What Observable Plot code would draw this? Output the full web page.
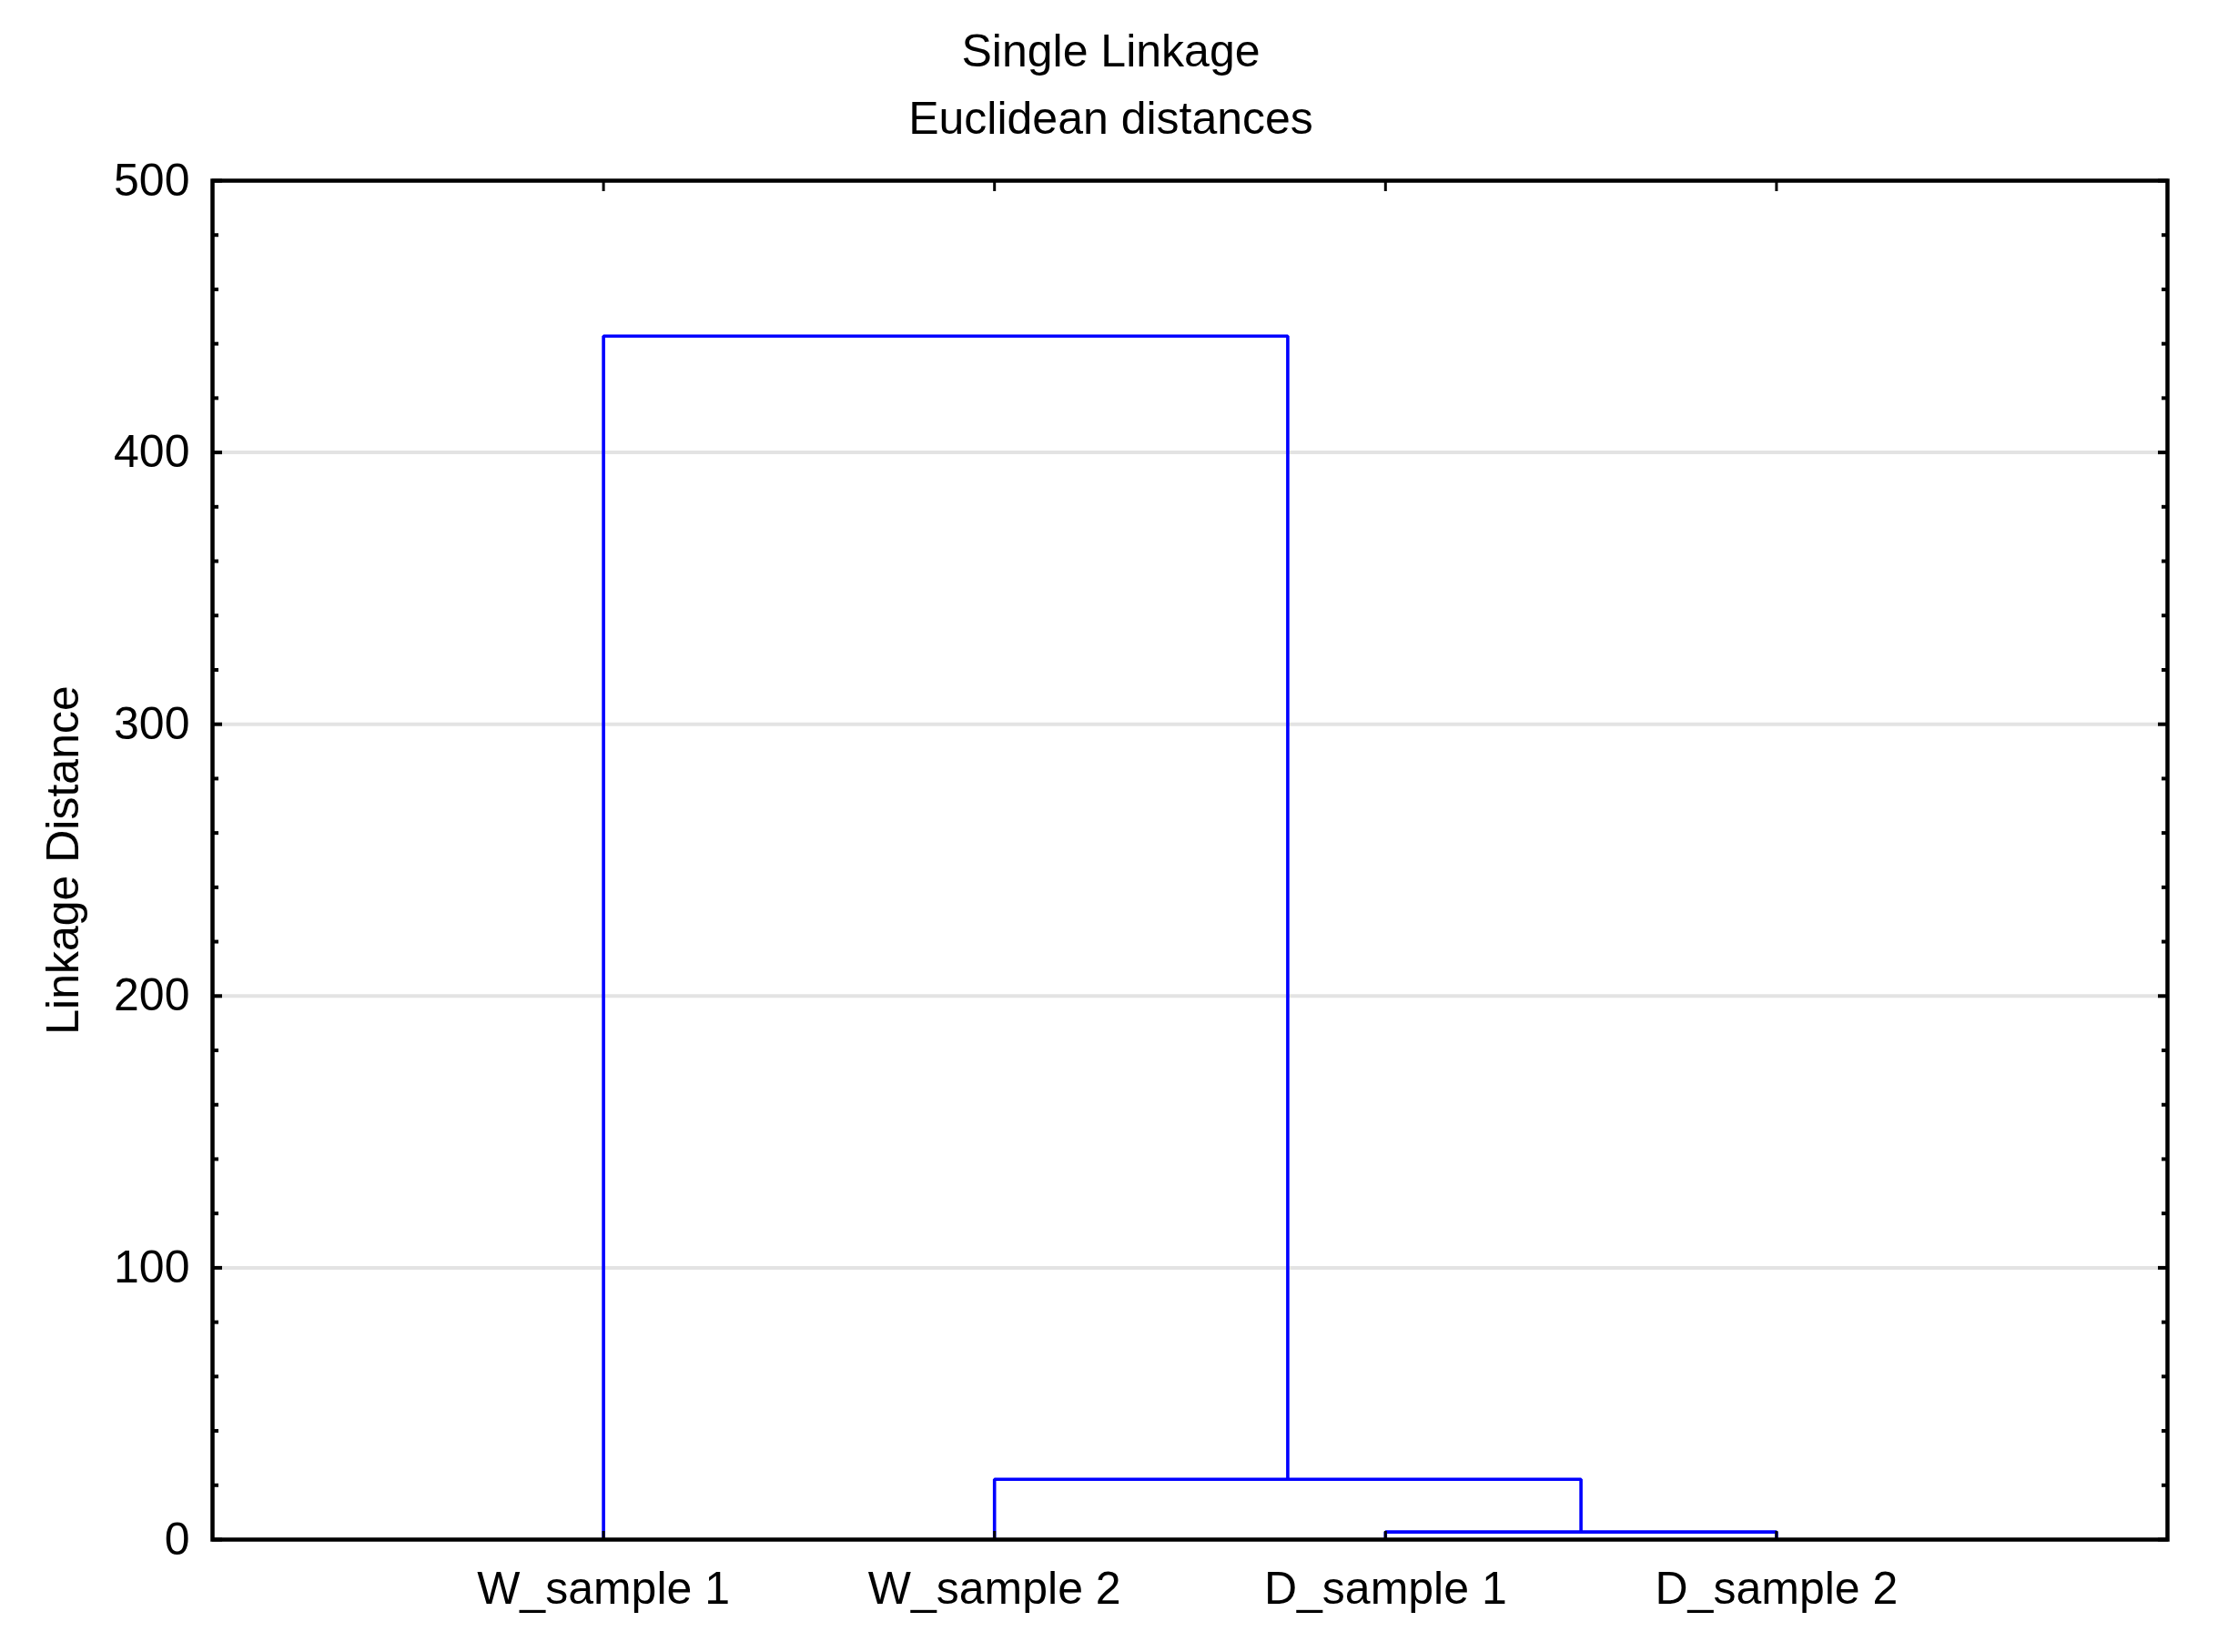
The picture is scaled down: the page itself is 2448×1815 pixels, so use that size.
<!DOCTYPE html>
<html><head><meta charset="utf-8">
<script src="https://cdn.jsdelivr.net/npm/d3@7"></script>
<script src="https://cdn.jsdelivr.net/npm/@observablehq/plot@0.6"></script>
<style>body{margin:0;background:#fff}</style>
</head><body><div id="chart"></div>
<script>
// Leaves in dendrogram order
const leaves = ["W_sample 1", "W_sample 2", "D_sample 1", "D_sample 2"];
// Merge steps: left member, right member, linkage distance (C1, C2 = clusters formed by earlier steps)
const mergeLeft = ["D_sample 1", "W_sample 2", "W_sample 1"];
const mergeRight = ["D_sample 2", "C1", "C2"];
const mergeDistance = [2.8, 22.2, 442.8];
// Axis ticks
const leafTicks = [1, 2, 3, 4];
const yTicks = [0, 100, 200, 300, 400, 500];
const yMinorTicks = [20, 40, 60, 80, 120, 140, 160, 180, 220, 240, 260, 280, 320, 340, 360, 380, 420, 440, 460, 480];
const gridValues = [100, 200, 300, 400];
const titleLines = ["Single Linkage", "Euclidean distances"];
const yLabel = "Linkage Distance";

// Build dendrogram link paths from the merge table
const pos = {}, hgt = {};
leaves.forEach((n, i) => { pos[n] = i + 1; hgt[n] = 0; });
const links = [];
mergeLeft.forEach((l, i) => {
  const r = mergeRight[i], h = mergeDistance[i], id = "C" + (i + 1);
  links.push({id, x: pos[l], y: hgt[l]}, {id, x: pos[l], y: h}, {id, x: pos[r], y: h}, {id, x: pos[r], y: hgt[r]});
  pos[id] = (pos[l] + pos[r]) / 2;
  hgt[id] = h;
});

const blank = () => "";
const chart = Plot.plot({
  width: 2448,
  height: 1815,
  marginLeft: 233,
  marginRight: 67,
  marginTop: 198,
  marginBottom: 124,
  style: {fontFamily: "'Liberation Sans', Arial, sans-serif", fontSize: "49px", background: "white", color: "black"},
  x: {domain: [0, 5], label: null},
  y: {domain: [0, 500], label: null},
  marks: [
    Plot.gridY(gridValues, {stroke: "#e3e3e3", strokeOpacity: 1, strokeWidth: 4}),
    Plot.line(links, {x: "x", y: "y", z: "id", stroke: "#0000ff", strokeWidth: 3.6, strokeLinejoin: "miter", strokeLinecap: "butt"}),
    Plot.frame({stroke: "black", strokeWidth: 4.5}),
    // inward ticks
    Plot.axisY(yTicks, {anchor: "left", tickSize: -11, strokeWidth: 4, tickFormat: blank, label: null}),
    Plot.axisY(yTicks, {anchor: "right", tickSize: -11, strokeWidth: 4, tickFormat: blank, label: null}),
    Plot.axisY(yMinorTicks, {anchor: "left", tickSize: -7, strokeWidth: 4, tickFormat: blank, label: null}),
    Plot.axisY(yMinorTicks, {anchor: "right", tickSize: -7, strokeWidth: 4, tickFormat: blank, label: null}),
    Plot.axisX(leafTicks, {anchor: "top", tickSize: -11, strokeWidth: 3, tickFormat: blank, label: null}),
    Plot.axisX(leafTicks, {anchor: "bottom", tickSize: -9, strokeWidth: 3, tickFormat: blank, label: null}),
    // tick labels
    Plot.axisY(yTicks, {anchor: "left", tickSize: 0, tickPadding: 25, fontSize: 50, label: null}),
    Plot.axisX(leafTicks, {anchor: "bottom", tickSize: 0, tickPadding: 35, fontSize: 50, tickFormat: d => leaves[d - 1], label: null}),
    // titles and axis label
    Plot.text([titleLines[0]], {frameAnchor: "top", lineAnchor: "middle", textAnchor: "middle", dx: -87, dy: -142, fontSize: 50}),
    Plot.text([titleLines[1]], {frameAnchor: "top", lineAnchor: "middle", textAnchor: "middle", dx: -87, dy: -68, fontSize: 50}),
    Plot.text([yLabel], {frameAnchor: "left", lineAnchor: "middle", textAnchor: "middle", rotate: -90, dx: -164, fontSize: 50})
  ]
});
document.getElementById("chart").append(chart);
</script>
</body></html>
